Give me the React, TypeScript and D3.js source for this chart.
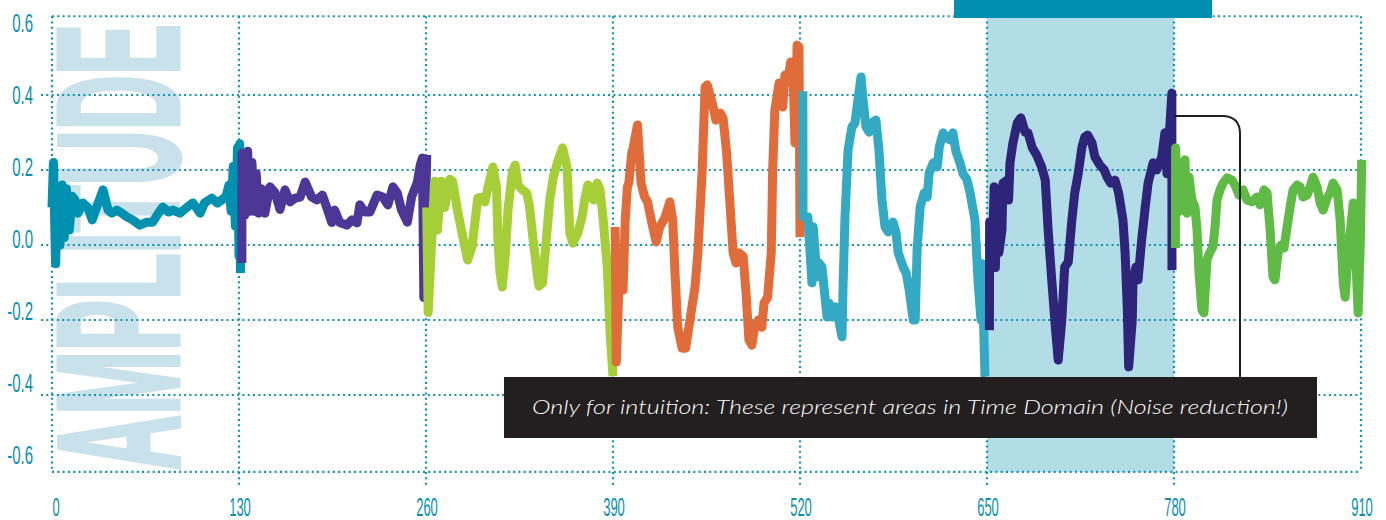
import React from 'react';
import * as d3 from 'd3';

type Pt = [number, number];

const xTicks = [0, 130, 260, 390, 520, 650, 780, 910];
const yTicks = [0.6, 0.4, 0.2, 0.0, -0.2, -0.4, -0.6];
const gridY = [0.4, 0.2, 0.0, -0.2, -0.4];

const segColors = ['#0090b0', '#4d3796', '#a6ce39', '#e06c3b', '#33a9c4', '#2e2479', '#5fba46'];

const seg1: Pt[] = [
  [0, 0.1], [1, 0.22], [2.5, -0.05], [4, 0.15], [5.5, 0.0], [7, 0.16], [8.5, 0.02], [10, 0.15], [12, 0.04],
  [14, 0.13], [16, 0.12], [18, 0.085], [21.5, 0.112], [25, 0.099], [28, 0.067], [31, 0.1], [35.5, 0.147],
  [39, 0.093], [41.5, 0.085], [45, 0.093], [48.5, 0.085], [52, 0.075], [56, 0.067], [61, 0.053], [66, 0.061],
  [70, 0.061], [74, 0.085], [77, 0.101], [81, 0.088], [84, 0.093], [89, 0.085], [94, 0.101], [98, 0.112],
  [103, 0.085], [106, 0.112], [111, 0.125], [115, 0.112], [118, 0.12], [121, 0.13], [123, 0.16], [124.5, 0.09],
  [126, 0.21], [127.5, 0.05], [129, 0.26], [130, -0.03], [130.5, 0.27], [131, -0.075],
];

const seg2: Pt[] = [
  [132, -0.048], [132.1, 0.245], [134, 0.08], [136, 0.25], [137.5, 0.09], [139, 0.22], [140.5, 0.09], [142, 0.19],
  [143.5, 0.085], [145.5, 0.15], [148, 0.085], [151.5, 0.155], [155, 0.14], [158.5, 0.095], [162, 0.147],
  [165.5, 0.115], [169, 0.125], [172.5, 0.128], [176, 0.168], [180.5, 0.128], [184, 0.12], [188, 0.133],
  [191, 0.1], [194.5, 0.06], [196.5, 0.093], [200, 0.06], [205, 0.053], [208.5, 0.067], [212, 0.059],
  [214, 0.107], [217.5, 0.088], [221, 0.088], [226, 0.133], [230, 0.128], [233.5, 0.107], [237, 0.155],
  [240, 0.139], [243, 0.093], [247, 0.061], [250, 0.128], [254, 0.168], [256, 0.213], [257.5, 0.232],
  [258.5, -0.14], [260.5, 0.24],
];

const seg3: Pt[] = [
  [260.5, 0.1], [261.5, -0.18], [266, 0.17], [268, 0.04], [270.5, 0.17], [273, 0.1], [276.5, 0.175], [278.5, 0.17],
  [282, 0.09], [287, -0.005], [289, -0.04], [292, -0.005], [296, 0.125], [299, 0.128], [301, 0.115],
  [303, 0.152], [306.5, 0.208], [309, 0.155], [310, 0.013], [311.5, -0.075], [313, -0.112], [315, -0.032],
  [317, 0.093], [320, 0.195], [322, 0.213], [324, 0.16], [327, 0.147], [330, 0.139], [332, 0.101],
  [334.5, 0.013], [337, -0.067], [338.5, -0.11], [341, -0.101], [344, 0.032], [346, 0.12], [348.5, 0.181],
  [352, 0.227], [355, 0.259], [358, 0.208], [359, 0.12], [360, 0.032], [362, 0.005], [365.5, 0.032],
  [368.5, 0.075], [370.5, 0.125], [372.5, 0.16], [375.5, 0.147], [376.5, 0.12], [379, 0.165], [381, 0.147],
  [383, 0.075], [386, -0.059], [388, -0.235], [390, -0.35],
];

const seg4: Pt[] = [
  [391.5, 0.048], [392.3, -0.312], [395, -0.02], [397, -0.12], [398.5, 0.067], [400, 0.155], [401, 0.165],
  [403, 0.245], [404, 0.26], [407, 0.32], [408, 0.26], [409.5, 0.165], [412, 0.128], [414, 0.115], [417, 0.059],
  [420, 0.008], [422.5, 0.048], [426, 0.072], [429.5, 0.115], [431.5, 0.067], [433, -0.067], [435, -0.219],
  [438, -0.275], [440.5, -0.275], [443.5, -0.2], [447, -0.112], [449, -0.021], [452, 0.2], [454, 0.421],
  [455.5, 0.427], [459, 0.379], [461.5, 0.333], [464.5, 0.352], [466.5, 0.339], [469, 0.245], [471, 0.128],
  [473.5, -0.021], [475.5, -0.048], [477.5, -0.021], [480.5, -0.03], [482.5, -0.128], [484.5, -0.253],
  [486.5, -0.267], [488.5, -0.219], [491, -0.2], [493.5, -0.219], [495, -0.155], [497.5, -0.139],
  [500, -0.021], [501, 0.2], [502.5, 0.36], [505.5, 0.432], [508, 0.368], [509.5, 0.453], [511.5, 0.435],
  [513.5, 0.488], [515, 0.485], [516.5, 0.272], [518, 0.533], [519.3, 0.528], [520, 0.021],
];

const seg5: Pt[] = [
  [522, 0.41], [522.1, 0.075], [525.5, 0.075], [528.3, -0.101], [529.2, 0.048], [531.8, -0.085], [533.2, -0.048],
  [535.3, -0.059], [537.4, -0.139], [538.8, -0.192], [540.2, -0.155], [542.3, -0.192], [544.4, -0.165],
  [546.5, -0.192], [549.2, -0.245], [550, -0.1], [551.3, 0.075], [553.4, 0.253], [556.1, 0.315], [558.2, 0.325],
  [560.3, 0.387], [562.4, 0.448], [563.8, 0.387], [565.9, 0.315], [568, 0.301], [570.7, 0.328], [572.8, 0.333],
  [574.9, 0.253], [577, 0.12], [579.1, 0.048], [581.2, 0.035], [584.7, 0.061], [586.8, 0.032], [588.2, -0.02],
  [591.7, -0.059], [593.8, -0.075], [595.9, -0.12], [598.7, -0.2], [600.1, -0.2], [601.4, -0.013],
  [603.5, 0.101], [606.3, 0.139], [608.4, 0.128], [609.8, 0.192], [612.6, 0.219], [615.4, 0.208],
  [616.8, 0.261], [619.5, 0.299], [622.3, 0.285], [624.4, 0.28], [626.3, 0.299], [628.4, 0.25], [631.2, 0.219],
  [633.3, 0.19], [636, 0.175], [638.2, 0.14], [641.6, 0.067], [643.7, -0.093], [645.8, -0.2], [646.5, -0.05],
  [648.6, -0.35], [649.3, -0.35],
];

const seg6: Pt[] = [
  [651.7, -0.227], [651.8, 0.061], [653.5, -0.05], [655, 0.155], [655.8, -0.06], [657, 0.1], [658.3, -0.02],
  [660.4, 0.04], [661.1, 0.165], [664, 0.173], [665, 0.12], [666, 0.219], [668, 0.272], [671, 0.325],
  [673.5, 0.339], [676.5, 0.301], [678.5, 0.299], [681.5, 0.259], [684.5, 0.24], [688, 0.208], [690.5, 0.173],
  [692.5, 0.04], [695, -0.093], [697.5, -0.219], [699.5, -0.307], [702, -0.2], [704, -0.059], [706.5, -0.045],
  [709, 0.067], [711, 0.139], [713.5, 0.192], [716, 0.261], [718, 0.288], [720, 0.293], [723, 0.272],
  [725, 0.235], [728.5, 0.213], [731.5, 0.2], [733.5, 0.181], [736, 0.165], [739, 0.173], [741.5, 0.139],
  [744.5, 0.067], [746, -0.021], [747.5, -0.165], [748.5, -0.325], [751, -0.2], [751.5, -0.093],
  [753.5, -0.059], [755, -0.093], [757.5, 0.013], [760, 0.101], [762, 0.165], [765.5, 0.219], [768, 0.2],
  [771.5, 0.235], [773.7, 0.299], [775.1, 0.19], [778.5, 0.405], [778.6, -0.067],
];

const seg7: Pt[] = [
  [781, -0.008], [781.1, 0.259], [782.8, 0.088], [784.9, 0.219], [786.2, 0.093], [787.6, 0.227], [789, 0.085],
  [790.4, 0.181], [792.5, 0.12], [794.6, 0.101], [796, 0.04], [797.4, -0.075], [799.4, -0.173], [800.8, -0.181],
  [802.9, -0.04], [805, -0.019], [807.1, -0.005], [808.5, 0.048], [809.9, 0.12], [812, 0.147], [814.1, 0.165],
  [816.9, 0.179], [820.3, 0.173], [822.4, 0.16], [825.2, 0.133], [828, 0.147], [830.7, 0.12], [834.2, 0.115],
  [837.7, 0.128], [839.8, 0.107], [842.6, 0.147], [844.7, 0.139], [846.8, 0.04], [848.8, -0.085],
  [850.2, -0.093], [852.3, -0.021], [854.4, 0.0], [856.5, -0.008], [858.6, 0.048], [860.7, 0.101],
  [862.8, 0.147], [865.6, 0.16], [867.6, 0.155], [869.7, 0.128], [872.5, 0.133], [874.6, 0.155],
  [876.7, 0.181], [879.5, 0.155], [881.6, 0.112], [883.7, 0.093], [886.4, 0.125], [888.5, 0.139],
  [890.6, 0.165], [893.4, 0.147], [895.5, 0.067], [897.6, -0.101], [899, -0.139], [901.1, -0.021],
  [903.2, 0.059], [904.6, 0.112], [906, 0.0], [908, -0.181], [909.5, 0.0], [910.5, 0.227],
];

const segments: Pt[][] = [seg1, seg2, seg3, seg4, seg5, seg6, seg7];

const highlightRange = [650, 780];
const annotationText = 'Only for intuition: These represent areas in Time Domain (Noise reduction!)';
const axisTitle = 'AMPLITUDE';

export default function App() {
  const W = 1386;
  const H = 520;
  const x = d3.scaleLinear().domain([0, 910]).range([52, 1361]);
  const y = d3.scaleLinear().domain([-0.6, 0.6]).range([470, 20]);
  const yLabel = d3.scaleLinear().domain([-0.6, 0.6]).range([455, 23]);
  const line = d3.line<Pt>().x((d) => x(d[0])).y((d) => y(d[1]));

  const gridColor = '#1391b3';
  const dash = '2 3.3';
  const top = y(0.61);
  const bottom = y(-0.605);
  const labelColor = '#0a8fb2';

  // Liberation Sans Bold: "AMPLITUDE" advance = 5.833 em
  const wmSize = 172;
  const wmScale = 446 / (5.833 * wmSize);

  return (
    <svg
      width={W}
      height={H}
      viewBox={`0 0 ${W} ${H}`}
      style={{ position: 'absolute', left: 0, top: 0, background: '#fff' }}
    >
      <rect x={0} y={0} width={W} height={H} fill="#ffffff" />
      {/* highlight band */}
      <rect
        x={x(highlightRange[0])}
        y={18}
        width={x(highlightRange[1]) - x(highlightRange[0])}
        height={bottom - 18}
        fill="#b3dde6"
      />
      {/* watermark */}
      <text
        transform={`translate(178, 470) rotate(-90) scale(${wmScale}, 1)`}
        fontFamily="'Liberation Sans', Arial, sans-serif"
        fontWeight={700}
        fontSize={wmSize}
        fill="#c9e1eb"
        stroke="#c9e1eb"
        strokeWidth={5}
        strokeLinejoin="miter"
      >
        {axisTitle}
      </text>
      {/* grid */}
      <g stroke={gridColor} strokeWidth={2.2} strokeDasharray={dash} fill="none">
        <line x1={x(0)} x2={x(910)} y1={top} y2={top} />
        <line x1={x(0)} x2={x(910)} y1={bottom} y2={bottom} />
        {gridY.map((v) => (
          <line key={'h' + v} x1={41} x2={x(910)} y1={y(v)} y2={y(v)} />
        ))}
        {xTicks.map((t, i) => (
          <line
            key={'v' + t}
            x1={x(t)}
            x2={x(t)}
            y1={top}
            y2={i === 0 || i === xTicks.length - 1 ? bottom : 487}
          />
        ))}
      </g>
      {/* top bar */}
      <rect x={954} y={0} width={258} height={18} fill="#008fb0" />
      {/* waveform */}
      <g fill="none" strokeWidth={9} strokeLinejoin="round" strokeLinecap="butt">
        {segments.map((s, i) => (
          <path key={i} d={line(s) || ''} stroke={segColors[i]} />
        ))}
      </g>
      {/* bracket */}
      <path
        d={`M ${x(780)} 116 H 1222 Q 1240 116 1240 134 V 378`}
        fill="none"
        stroke="#231f20"
        strokeWidth={2}
      />
      {/* annotation */}
      <rect x={504} y={377} width={813} height={61} fill="#231f20" />
      <text
        x={910}
        y={414}
        textAnchor="middle"
        fontFamily="Lato, 'Open Sans', sans-serif"
        fontStyle="italic"
        fontWeight={300}
        fontSize={19}
        fill="#ffffff"
        textLength={756}
        lengthAdjust="spacingAndGlyphs"
      >
        {annotationText}
      </text>
      {/* axis labels */}
      <g fill={labelColor} fontFamily="'Liberation Sans Narrow', 'Liberation Sans', Arial, sans-serif" fontSize={25}>
        {yTicks.map((v) => (
          <text key={'yl' + v} transform={`translate(33, ${yLabel(v) + 9}) scale(0.6, 1)`} textAnchor="end">
            {v.toFixed(1)}
          </text>
        ))}
        {xTicks.map((t) => (
          <text key={'xl' + t} transform={`translate(${x(t) + (t === 0 ? 4 : 1)}, 516) scale(0.52, 1)`} textAnchor="middle">
            {String(t)}
          </text>
        ))}
      </g>
    </svg>
  );
}
